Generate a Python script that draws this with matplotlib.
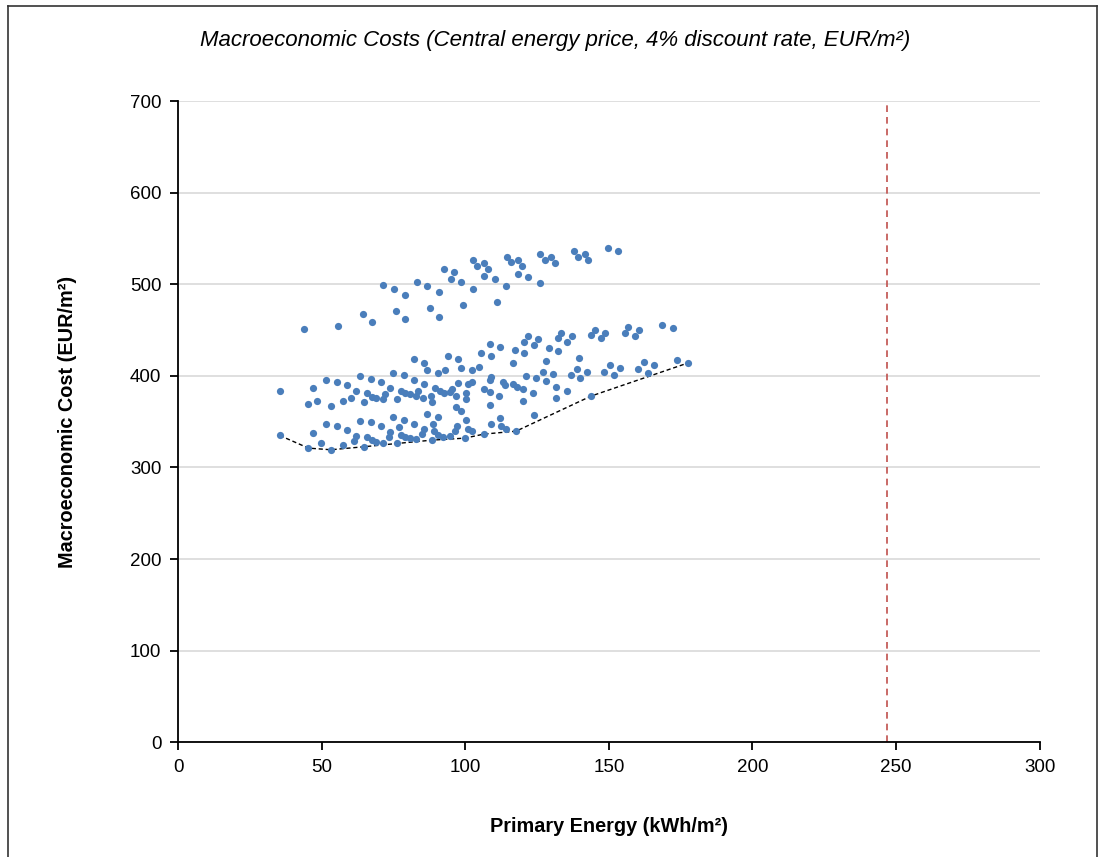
import matplotlib.pyplot as plt
from matplotlib.lines import Line2D

plt.rcParams['font.family'] = ['Liberation Sans', 'DejaVu Sans']

# scatter of packages (primary energy, macroeconomic cost)
energy = [
    44.0, 55.8, 64.3, 67.4, 71.5, 75.1, 79.1, 75.9, 79.1, 83.3, 86.8, 90.8, 87.7, 90.8,
    92.5, 96.1, 94.9, 98.5, 99.3, 102.8, 104.2, 106.6, 107.8, 106.7, 102.6, 110.2, 111.1,
    114.3, 114.6, 116.0, 118.2, 119.6, 118.3, 121.8, 126.0, 126.2, 127.6, 129.9, 131.2,
    137.9, 139.3, 141.7, 142.9, 149.7, 153.3,
    35.4, 47.1, 45.4, 48.5, 51.5, 55.3, 53.2, 58.8, 57.3, 60.3, 62.1, 63.2, 64.8, 65.9,
    67.2, 67.4, 69.1, 70.6, 71.3, 72.0, 73.8, 75.0, 76.4, 77.6, 78.8, 79.1, 80.8,
    82.1, 85.5, 86.8, 90.6, 93.1, 93.9, 97.4, 98.4, 102.2, 104.8, 105.5, 108.7, 108.9,
    112.1, 116.5, 117.3, 120.6, 120.3, 121.7, 123.8, 125.3, 129.0, 132.2, 132.2, 128.1,
    127.0, 130.6, 128.2, 124.8, 121.1, 120.2, 123.5, 120.1, 131.7, 131.7, 123.8, 116.5,
    117.9, 113.2, 114.0, 111.8, 109.1, 108.6, 108.6, 108.6, 106.4, 102.3, 101.1, 100.1,
    100.1, 96.8, 97.6, 94.7, 95.4, 92.5, 91.2, 89.5, 88.2, 88.5, 85.7, 85.2, 83.7, 82.1,
    82.8, 96.8, 98.4, 86.7, 90.5, 100.3, 82.1, 88.6, 97.1, 101.1, 85.5, 84.9, 89.2, 90.6,
    92.3, 94.7, 96.6, 102.3, 99.9, 88.4, 82.8, 112.1, 108.8, 112.6, 114.2, 106.5, 117.7,
    133.4, 137.0, 135.6, 139.7, 138.8, 142.4, 136.7, 139.9, 135.3, 143.8, 145.3, 143.9,
    148.7, 147.3, 148.3, 150.5, 151.8, 154.0, 155.6, 156.8, 160.6, 159.0, 160.1, 162.2,
    163.5, 165.7, 168.6, 172.2, 173.9, 177.4,
    35.4, 47.1, 45.4, 49.9, 53.2, 51.5, 55.3, 57.3, 58.8, 61.4, 62.1, 63.2, 64.8, 65.9,
    67.2, 67.4, 69.1, 70.6, 71.3, 73.5, 73.9, 75.0, 76.4, 77.0, 77.6, 78.8, 79.1, 80.8,
]
cost = [
    451.4, 454.6, 467.7, 458.3, 498.7, 495.0, 488.2, 471.0, 461.6, 502.3, 498.3, 491.4, 474.6, 464.4,
    516.9, 513.6, 505.6, 502.0, 477.8, 526.8, 520.2, 523.5, 516.6, 508.9, 495.0, 505.3, 480.5,
    498.3, 530.1, 524.0, 526.8, 520.2, 511.4, 507.8, 500.9, 533.4, 526.8, 530.1, 523.5,
    536.5, 529.3, 533.3, 526.0, 539.1, 535.8,
    383.3, 386.2, 369.4, 372.7, 395.9, 393.4, 367.6, 389.9, 372.7, 375.7, 383.3, 399.7, 371.2, 381.1,
    396.5, 377.4, 375.9, 393.1, 374.6, 379.7, 386.2, 403.4, 374.6, 383.6, 400.5, 381.1, 379.7,
    418.3, 414.3, 406.0, 403.4, 406.3, 421.6, 418.0, 408.8, 406.0, 409.9, 424.8, 434.6, 421.6,
    431.4, 413.9, 428.1, 424.5, 437.3, 443.4, 434.0, 440.6, 430.6, 427.0, 441.6, 416.6,
    404.4, 401.5, 394.2, 397.8, 400.0, 385.2, 381.5, 372.4, 388.1, 375.3, 357.1, 391.3,
    388.1, 393.6, 389.9, 377.9, 398.8, 395.3, 381.9, 368.4, 385.2, 393.1, 390.6, 380.8,
    374.6, 378.4, 392.4, 381.9, 385.2, 381.5, 383.3, 386.9, 377.9, 371.7, 390.6, 375.3, 383.3, 395.3,
    377.9, 365.6, 361.3, 358.4, 355.5, 351.4, 347.4, 347.4, 345.2, 341.8, 341.8, 336.4, 339.3, 335.6,
    333.4, 333.8, 339.3, 339.3, 332.0, 329.8, 330.6, 353.8, 347.6, 345.1, 341.8, 336.4, 339.6,
    446.8, 443.6, 437.3, 419.3, 407.7, 404.4, 401.1, 397.5, 384.0, 377.9, 450.1, 444.3,
    446.8, 440.9, 404.4, 411.7, 400.8, 408.1, 446.8, 453.8, 450.1, 443.6, 407.1, 414.8,
    403.5, 411.4, 455.9, 452.7, 417.5, 413.9,
    334.9, 337.8, 321.1, 326.2, 319.3, 347.9, 345.1, 324.0, 341.4, 329.3, 334.3, 351.1, 322.6, 332.7,
    349.1, 329.8, 328.0, 345.1, 327.0, 333.4, 338.2, 354.6, 326.2, 344.0, 335.6, 352.2, 333.4, 331.6,
]

# cost-optimal frontier
front_energy = [35.4, 45.4, 53.2, 64.8, 76.4, 88.4, 99.9, 106.5, 117.7, 143.8, 177.4]
front_cost = [334.9, 321.1, 319.3, 322.6, 326.2, 329.8, 332.0, 336.4, 339.6, 377.9, 413.9]

nzeb_limit = 247

fig = plt.figure(figsize=(10.99, 8.57), dpi=100)
ax = fig.add_axes([0.162, 0.134, 0.784, 0.748])

ax.scatter(energy, cost, s=27, color='#4a7ebb', zorder=3, linewidths=0)
ax.plot(front_energy, front_cost, color='black', linestyle='--', linewidth=1,
        dashes=(3, 2), zorder=2)
ax.axvline(nzeb_limit, color='#c0504d', linestyle='--', linewidth=1.2, dashes=(4, 3))

ax.set_xlim(0, 300)
ax.set_ylim(0, 700)
ax.set_xticks(range(0, 301, 50))
ax.set_yticks(range(0, 701, 100))
ax.yaxis.grid(True, color='#d9d9d9', linewidth=1.2)
ax.set_axisbelow(True)

for side in ['top', 'right']:
    ax.spines[side].set_visible(False)
for side in ['left', 'bottom']:
    ax.spines[side].set_linewidth(1.3)
ax.tick_params(direction='out', length=6, width=1.3, labelsize=13.5, pad=6)

ax.set_xlabel('Primary Energy (kWh/m²)', fontsize=14.3, fontweight='bold', labelpad=30)
ax.set_ylabel('Macroeconomic Cost (EUR/m²)', fontsize=14.3, fontweight='bold', labelpad=38)
fig.text(0.505, 0.953, 'Macroeconomic Costs (Central energy price, 4% discount rate, EUR/m²)',
         ha='center', va='center', fontsize=16, style='italic')

# thin frame around the chart area
for xs, ys in [([0.007, 0.007], [0.0, 0.993]), ([0.007, 0.998], [0.993, 0.993]),
               ([0.998, 0.998], [0.0, 0.993])]:
    fig.add_artist(Line2D(xs, ys, color='#333333', linewidth=1.2))

fig.savefig('out.png', dpi=100)
